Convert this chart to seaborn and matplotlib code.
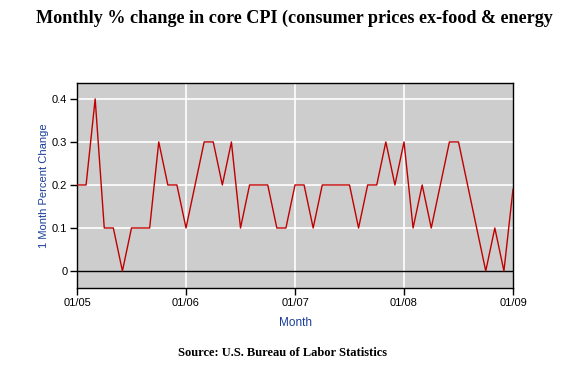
import seaborn as sns
import matplotlib.pyplot as plt
import pandas as pd

# monthly % change in core CPI, Jan 2005 .. Jan 2009
months = list(range(49))
pct_change = [0.2, 0.2, 0.4, 0.1, 0.1, 0.0, 0.1, 0.1, 0.1, 0.3, 0.2, 0.2,
              0.1, 0.2, 0.3, 0.3, 0.2, 0.3, 0.1, 0.2, 0.2, 0.2, 0.1, 0.1,
              0.2, 0.2, 0.1, 0.2, 0.2, 0.2, 0.2, 0.1, 0.2, 0.2, 0.3, 0.2,
              0.3, 0.1, 0.2, 0.1, 0.2, 0.3, 0.3, 0.2, 0.1, 0.0, 0.1, 0.0,
              0.19]
tick_pos = [0, 12, 24, 36, 48]
tick_labels = ['01/05', '01/06', '01/07', '01/08', '01/09']
y_ticks = [0, 0.1, 0.2, 0.3, 0.4]
y_labels = ['0', '0.1', '0.2', '0.3', '0.4']

if __name__ == '__main__':
    df = pd.DataFrame({'month': months, 'pct': pct_change})

    sns.set_style('white')
    plt.rcParams['font.family'] = ['Liberation Sans', 'DejaVu Sans']
    plt.rcParams['text.color'] = 'black'

    fig = plt.figure(figsize=(5.7, 3.79), dpi=100)
    ax = fig.add_axes([77 / 570, 1 - 288 / 379, 436 / 570, 205 / 379])
    ax.set_facecolor('#cdcdcd')

    for y in y_ticks[1:]:
        ax.axhline(y, color='white', lw=1.2, zorder=1)
    for x in tick_pos[1:-1]:
        ax.axvline(x, color='white', lw=1.2, zorder=1)
    ax.axhline(0, color='black', lw=1, zorder=2)

    sns.lineplot(data=df, x='month', y='pct', color='#c00000', lw=1, ax=ax, zorder=3)

    ax.set_xlim(0, 48)
    ax.set_ylim(-0.0395, 0.437)
    ax.set_xticks(tick_pos)
    ax.set_xticklabels(tick_labels)
    ax.set_yticks(y_ticks)
    ax.set_yticklabels(y_labels)
    ax.tick_params(axis='both', direction='out', length=5, width=1, colors='black',
                   labelsize=8, bottom=True, left=True, pad=2)
    for s in ax.spines.values():
        s.set_color('black')
        s.set_linewidth(1)

    ax.set_xlabel('Month', color='#1a3d99', fontsize=8.5, labelpad=7)
    ax.set_ylabel('1 Month Percent Change', color='#1a3d99', fontsize=8, labelpad=2)

    fig.text(294 / 570, 1 - 18 / 379, 'Monthly % change in core CPI (consumer prices ex-food & energy',
             ha='center', va='center', fontsize=13.1, fontweight='bold', family='Liberation Serif')
    fig.text(282 / 570, 1 - 353 / 379, 'Source: U.S. Bureau of Labor Statistics',
             ha='center', va='center', fontsize=9, fontweight='bold', family='Liberation Serif')

    fig.savefig('out.png', dpi=100)
